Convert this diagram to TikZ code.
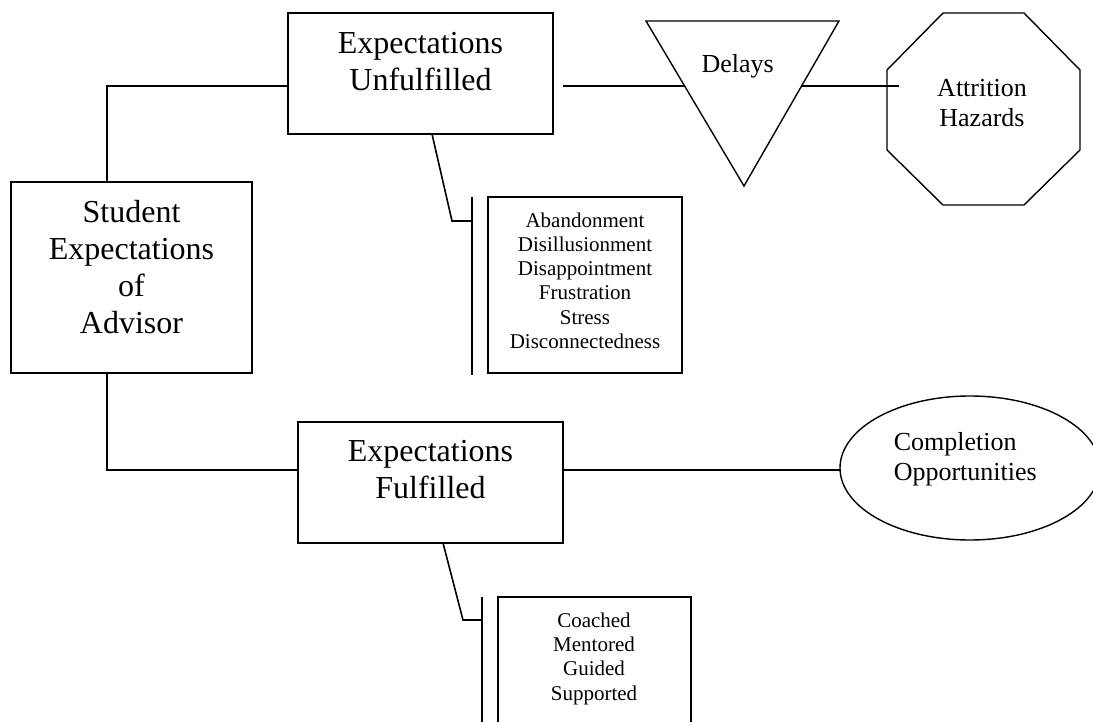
\documentclass[tikz,border=0pt]{standalone}
\usepackage{fontspec}
\setmainfont{Liberation Serif}
\usetikzlibrary{shapes.geometric}
\begin{document}
\begin{tikzpicture}[x=1pt,y=-1pt,line width=1.6pt,
  box/.style={draw,fill=white,rectangle,inner sep=0pt,outer sep=0pt,line width=1.6pt},
  bigtxt/.style={align=center,inner sep=0pt,font=\fontsize{32}{37}\selectfont},
  midtxt/.style={align=center,inner sep=0pt,font=\fontsize{26}{30}\selectfont},
  smalltxt/.style={align=center,inner sep=0pt,font=\fontsize{21}{24.2}\selectfont},
  link/.style={draw,line width=1.6pt},
  shapeline/.style={draw,fill=white,line width=1.4pt,line join=miter}]
\useasboundingbox (0,0) rectangle (1093,722);

% boxes
\node[box,minimum width=241pt,minimum height=191pt] (stu) at (131.5,277.5) {};
\node[box,minimum width=265pt,minimum height=121pt] (unf) at (420.5,73.5) {};
\node[box,minimum width=265pt,minimum height=121pt] (ful) at (430.5,482.5) {};
\node[box,minimum width=194pt,minimum height=176pt] (aban) at (585,285) {};
\node[box,minimum width=193pt,minimum height=163pt] (coach) at (594.5,678.5) {};
\node[draw,ellipse,line width=1.4pt,inner sep=0pt,outer sep=0pt,minimum width=260pt,minimum height=144pt] (ell) at (970,468) {};

% triangle
\coordinate (tA) at (646,21);
\coordinate (tB) at (839,21);
\coordinate (tC) at (744,186);
\path[shapeline] (tA) -- (tB) -- (tC) -- cycle;

% octagon
\coordinate (o1) at (943,13);
\coordinate (o2) at (1024,13);
\coordinate (o3) at (1080,70);
\coordinate (o4) at (1080,150);
\coordinate (o5) at (1024,205);
\coordinate (o6) at (943,205);
\coordinate (o7) at (887,150);
\coordinate (o8) at (887,70);
\path[shapeline] (o1) -- (o2) -- (o3) -- (o4) -- (o5) -- (o6) -- (o7) -- (o8) -- cycle;

% texts
\node[bigtxt] (stut) at (131.5,267) {Student\\Expectations\\of\\Advisor};
\node[bigtxt] (unft) at (420.5,62) {Expectations\\Unfulfilled};
\node[bigtxt] (fult) at (430.5,470) {Expectations\\Fulfilled};
\node[midtxt] (delt) at (737.7,66.6) {Delays};
\node[midtxt] (octt) at (982,103) {Attrition\\Hazards};
\node[midtxt,align=left,anchor=west] (ellt) at (893,459.3) {Completion\\Opportunities};
\node[smalltxt] (abant) at (585,280.7) {Abandonment\\Disillusionment\\Disappointment\\Frustration\\Stress\\Disconnectedness};
\node[smalltxt] (coacht) at (594,658.8) {Coached\\Mentored\\Guided\\Supported};

% junction coordinates
\coordinate (j1) at (107,86);
\coordinate (j2) at (107,470);
\coordinate (d0) at (563,86);
\coordinate (d1) at (684.6,86);
\coordinate (d2) at (801.6,86);
\coordinate (d3) at (899,86);
\coordinate (u1) at (432,134);
\coordinate (u2) at (452,221);
\coordinate (b1t) at (472,197);
\coordinate (b1b) at (472,375);
\coordinate (f1) at (443,543);
\coordinate (f2) at (463,620);
\coordinate (b2t) at (482,597);
\coordinate (b2b) at (482,730);

% connectors
\path[link] (stu.north -| j1) -- (j1) -- (j1 -| unf.west);
\path[link] (stu.south -| j2) -- (j2) -- (j2 -| ful.west);
\path[link] (d0) -- (d1);
\path[link] (d2) -- (d3);
\path[link] (ful.east |- j2) -- (ell.west |- j2);
\path[link] (u1) -- (u2) -- (u2 -| b1t);
\path[link] (b1t) -- (b1b);
\path[link] (f1) -- (f2) -- (f2 -| b2t);
\path[link] (b2t) -- (b2b);
\end{tikzpicture}
\end{document}
